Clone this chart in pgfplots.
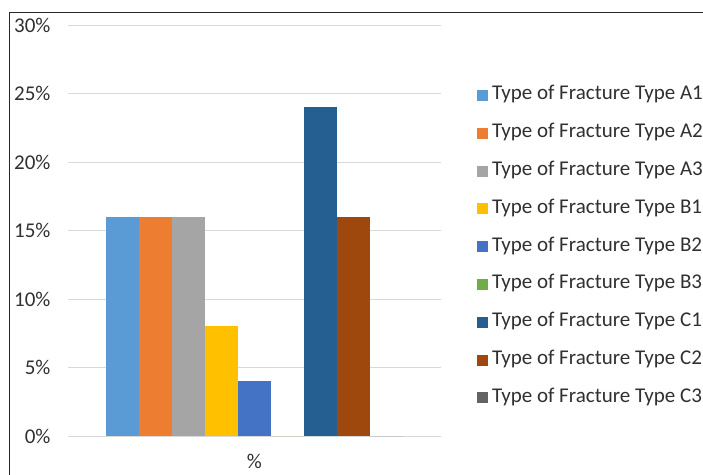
\documentclass[border=0pt]{standalone}
\usepackage{fontspec}
\setmainfont{Carlito}
\usepackage{pgfplots}
\pgfplotsset{compat=1.18}
\definecolor{cA1}{HTML}{5B9BD5}
\definecolor{cA2}{HTML}{ED7D31}
\definecolor{cA3}{HTML}{A5A5A5}
\definecolor{cB1}{HTML}{FFC000}
\definecolor{cB2}{HTML}{4472C4}
\definecolor{cB3}{HTML}{70AD47}
\definecolor{cC1}{HTML}{255E91}
\definecolor{cC2}{HTML}{9E480E}
\definecolor{cC3}{HTML}{636363}
\definecolor{txt}{HTML}{303030}
\definecolor{gridc}{HTML}{D9D9D9}
\pgfplotsset{sqleg/.style={legend image code/.code={\fill[##1] (0pt,-5.5pt) rectangle (11pt,5.5pt);}}}
\begin{document}
\begin{tikzpicture}[x=1pt,y=1pt]
\useasboundingbox (0,0) rectangle (703,474);
\draw[line width=1pt, color=black!85] (9.3,-1) -- (9.3,461.7) -- (704,461.7);
\begin{axis}[
  at={(68pt,38pt)}, anchor=south west,
  scale only axis, width=373pt, height=411pt,
  xmin=-1, xmax=1, ymin=0, ymax=30,
  ybar=0pt, bar width=33.1pt,
  ytick={0,5,...,30},
  yticklabel={\pgfmathprintnumber{\tick}\%},
  ymajorgrids, grid style={color=gridc, line width=0.9pt},
  axis line style={draw=none}, major tick length=0pt,
  xtick={0}, xticklabels={\%},
  /pgf/number format/assume math mode=true,
  tick label style={font=\fontsize{21}{24}\selectfont, text=txt},
  yticklabel style={anchor=east, xshift=-14pt},
  xticklabel style={yshift=-15pt},
  legend style={at={(1.088,0.857)}, anchor=north west, draw=none, fill=none,
    font=\fontsize{21}{24}\selectfont, text=txt,
    nodes={inner sep=0pt, text height=14pt, text depth=5pt},
    row sep=18.8pt, column sep=4pt},
  legend cell align=left,
  clip=false,
]
\addplot[fill=cA1, draw=none, sqleg] coordinates {(0,16)};
\addlegendentry{Type of Fracture Type A1}
\addplot[fill=cA2, draw=none, sqleg] coordinates {(0,16)};
\addlegendentry{Type of Fracture Type A2}
\addplot[fill=cA3, draw=none, sqleg] coordinates {(0,16)};
\addlegendentry{Type of Fracture Type A3}
\addplot[fill=cB1, draw=none, sqleg] coordinates {(0,8)};
\addlegendentry{Type of Fracture Type B1}
\addplot[fill=cB2, draw=none, sqleg] coordinates {(0,4)};
\addlegendentry{Type of Fracture Type B2}
\addplot[fill=cB3, draw=none, sqleg] coordinates {(0,0)};
\addlegendentry{Type of Fracture Type B3}
\addplot[fill=cC1, draw=none, sqleg] coordinates {(0,24)};
\addlegendentry{Type of Fracture Type C1}
\addplot[fill=cC2, draw=none, sqleg] coordinates {(0,16)};
\addlegendentry{Type of Fracture Type C2}
\addplot[fill=cC3, draw=none, sqleg] coordinates {(0,0)};
\addlegendentry{Type of Fracture Type C3}
\end{axis}
\end{tikzpicture}
\end{document}
